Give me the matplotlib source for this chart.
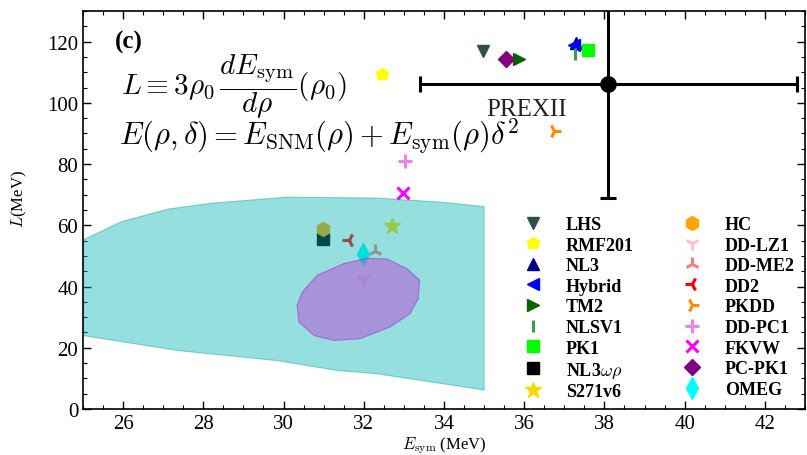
import numpy as np
import matplotlib.pyplot as plt
from matplotlib.ticker import MultipleLocator

plt.rcParams['font.family'] = ['Liberation Serif', 'DejaVu Serif']
plt.rcParams['mathtext.fontset'] = 'cm'

# model predictions (Esym, L) in MeV
names = ['LHS', 'RMF201', 'NL3', 'Hybrid', 'TM2', 'NLSV1', 'PK1', r'NL3$\omega\rho$', 'S271v6',
         'HC', 'DD-LZ1', 'DD-ME2', 'DD2', 'PKDD', 'DD-PC1', 'FKVW', 'PC-PK1', 'OMEG']
esym = [34.97, 32.45, 37.3, 37.25, 35.88, 37.27, 37.6, 30.99, 32.7,
        30.99, 31.98, 32.29, 31.62, 36.74, 33.03, 32.97, 35.55, 31.97]
slope = [117.0, 109.3, 119.6, 118.8, 114.2, 115.8, 117.1, 55.5, 59.9,
         58.8, 42.4, 51.6, 55.2, 90.8, 80.9, 70.5, 114.2, 50.5]
markers = ['v', 'p', '^', '<', '>', '|', 's', 's', '*',
           'h', '1', '2', '3', '4', '+', 'x', 'D', 'd']
colors = ['darkslategray', 'yellow', 'darkblue', 'blue', 'darkgreen', '#3c9a4a', 'lime', 'black', 'gold',
          'orange', 'pink', 'lightcoral', 'red', 'darkorange', 'violet', 'magenta', 'purple', 'cyan']
sizes = [9, 9, 9, 9, 9, 9, 9, 9, 12,
         10, 10, 10, 10, 10, 10, 9, 8, 11]

# PREX-II constraint
prex_e, prex_de = 38.1, 4.7
prex_l, prex_dl = 106.0, 37.0

# allowed band (cyan)
band_top_e = [25.0, 25.96, 27.12, 28.19, 30.09, 32.33, 33.98, 35.0]
band_top_l = [55.2, 61.2, 65.3, 67.2, 69.2, 68.9, 67.5, 66.1]
band_bot_e = [35.0, 32.33, 31.33, 29.85, 27.36, 25.0]
band_bot_l = [6.2, 11.5, 12.6, 15.8, 19.1, 24.0]

# purple region
blob_e = [30.34, 30.47, 30.84, 31.5, 32.08, 32.58, 33.07, 33.39, 33.36, 33.15, 32.66, 31.91, 31.25, 30.76, 30.38]
blob_l = [33.9, 38.3, 43.7, 47.5, 49.2, 49.0, 45.9, 42.1, 36.1, 31.1, 26.8, 23.0, 22.4, 24.0, 28.4]

fig = plt.figure(figsize=(8.07, 4.56), dpi=100)
ax = fig.add_axes([83/807, 1-410/456, 722/807, 398/456])

for i in range(len(names)):
    mew = 2.2 if markers[i] in ['|', '1', '2', '3', '4', '+', 'x'] else 1
    ax.plot(esym[i], slope[i], linestyle='none', marker=markers[i], color=colors[i],
            ms=sizes[i], mew=mew, label=names[i], zorder=1)

ax.fill(band_top_e + band_bot_e, band_top_l + band_bot_l, facecolor=(0, 0.7, 0.7), alpha=0.41,
        edgecolor=(0, 0.6, 0.6), lw=0.8, zorder=2)
ax.fill(blob_e, blob_l, facecolor='mediumorchid', alpha=0.55, edgecolor='darkorchid', lw=0.8, zorder=3)

ax.errorbar(prex_e, prex_l, xerr=prex_de, yerr=prex_dl, fmt='o', color='k', ms=11,
            elinewidth=2.2, capsize=6, capthick=2.2, zorder=5)
ax.text(36.05, 98.0, 'PREXII', fontsize=18, ha='center', va='center', color='#222222')

ax.text(25.8, 120, '(c)', fontsize=18, fontweight='bold', ha='left', va='center')
ax.text(25.95, 105.5, r'$L\equiv 3\rho_0\,\dfrac{dE_{\rm sym}}{d\rho}(\rho_0)$', fontsize=21, ha='left', va='center')
ax.text(25.9, 89.5, r'$E(\rho,\delta)=E_{\rm SNM}(\rho)+E_{\rm sym}(\rho)\delta^2$', fontsize=22, ha='left', va='center')

ax.set_xlim(25, 43)
ax.set_ylim(0, 130)
ax.xaxis.set_major_locator(MultipleLocator(2))
ax.xaxis.set_minor_locator(MultipleLocator(0.5))
ax.yaxis.set_major_locator(MultipleLocator(20))
ax.yaxis.set_minor_locator(MultipleLocator(5))
ax.tick_params(which='both', direction='in', top=True, right=True, labelsize=15)
ax.tick_params(which='major', length=6, width=1)
ax.tick_params(which='minor', length=3, width=0.8)
for s in ax.spines.values():
    s.set_linewidth(1.2)

ax.set_xlabel(r'$E_{\rm sym}$ (MeV)', fontsize=12)
ax.xaxis.set_label_coords(0.5, -0.063)
ax.set_ylabel(r'$L$(MeV)', fontsize=12)
ax.yaxis.set_label_coords(-0.075, 0.53)

ax.legend(loc='upper left', bbox_to_anchor=(0.605, 0.485), ncol=2, frameon=False,
          prop={'weight': 'bold', 'size': 13}, labelspacing=0.2, handlelength=1.5,
          handletextpad=1.05, columnspacing=2.5, borderpad=0, borderaxespad=0)

fig.savefig('out.png', dpi=100)
